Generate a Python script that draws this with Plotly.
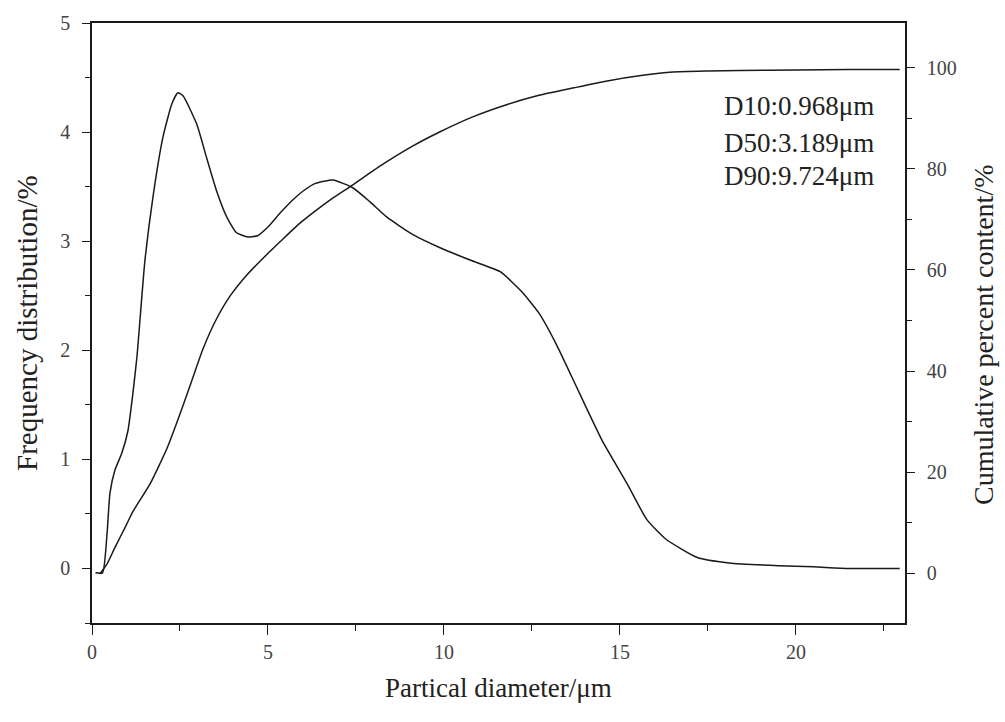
import plotly.graph_objects as go

# Frequency distribution (%) vs particle diameter (um)
freq_x = [0.1, 0.3, 0.43, 0.51, 0.65, 0.85, 1.02, 1.16, 1.28, 1.5, 1.73, 2.02, 2.27, 2.44,
          2.59, 2.98, 3.26, 3.55, 3.83, 4.1, 4.4, 4.7, 5.0, 5.35, 5.71, 6.0, 6.35, 6.85, 7.41,
          7.9, 8.38, 9.12, 9.89, 10.8, 11.6, 12.2, 12.7, 13.2, 13.86, 14.5, 15.2, 15.76, 16.3,
          17.2, 18.1, 19.5, 20.5, 21.5, 22.95]
freq_y = [-0.04, -0.04, 0.33, 0.69, 0.9, 1.06, 1.26, 1.6, 1.95, 2.81, 3.4, 3.96, 4.26, 4.36,
          4.33, 4.07, 3.76, 3.45, 3.22, 3.08, 3.04, 3.05, 3.13, 3.26, 3.38, 3.46, 3.53, 3.56, 3.49,
          3.36, 3.22, 3.06, 2.94, 2.82, 2.72, 2.54, 2.34, 2.05, 1.6, 1.17, 0.78, 0.45, 0.27,
          0.1, 0.05, 0.025, 0.015, 0.0, 0.0]

# Cumulative percent content (%)
cum_x = [0.23, 0.43, 0.65, 0.97, 1.16, 1.65, 2.13, 2.5, 2.87, 3.15, 3.5, 3.92, 4.4, 4.86,
         5.35, 5.82, 6.3, 6.76, 7.41, 8.18, 9.12, 9.89, 10.8, 11.8, 12.7, 13.7, 14.6, 15.6,
         16.5, 17.5, 18.4, 20.0, 21.5, 22.95]
cum_y = [0, 1.9, 5.1, 9.5, 12.2, 17.7, 24.7, 31.5, 38.8, 44.3, 49.8, 54.8, 59, 62.3,
         65.6, 68.7, 71.4, 73.8, 76.8, 80.5, 84.5, 87.3, 90.2, 92.7, 94.5, 96.0, 97.3, 98.4,
         99.1, 99.3, 99.4, 99.5, 99.6, 99.6]

d_labels = ["D10:0.968μm", "D50:3.189μm", "D90:9.724μm"]

FONT = "Liberation Serif"
INK = "#1a1a1a"

fig = go.Figure()
fig.add_trace(go.Scatter(x=freq_x, y=freq_y, mode="lines",
                         line=dict(color=INK, width=1.5, shape="spline", smoothing=0.5),
                         showlegend=False))
fig.add_trace(go.Scatter(x=cum_x, y=cum_y, mode="lines", yaxis="y2",
                         line=dict(color=INK, width=1.5, shape="spline", smoothing=0.5),
                         showlegend=False))

tickfont = dict(family=FONT, size=20, color="#444")

fig.update_layout(
    width=1005, height=722,
    margin=dict(l=92, r=100, t=19, b=99),
    paper_bgcolor="white", plot_bgcolor="white",
    xaxis=dict(range=[0, 23.1], dtick=5, tick0=0, showgrid=False, zeroline=False,
               showline=True, linecolor=INK, linewidth=1.5, mirror=True,
               ticks="outside", ticklen=10, tickwidth=1.2, tickcolor=INK,
               minor=dict(dtick=2.5, ticks="outside", ticklen=6, tickcolor=INK),
               tickfont=tickfont, ticklabelstandoff=0),
    yaxis=dict(range=[-0.5, 5], dtick=1, tick0=0, showgrid=False, zeroline=False,
               showline=True, linecolor=INK, linewidth=1.5,
               ticks="outside", ticklen=8, tickwidth=1.2, tickcolor=INK,
               minor=dict(dtick=0.5, ticks="outside", ticklen=5, tickcolor=INK),
               tickfont=tickfont, ticklabelstandoff=8),
    yaxis2=dict(range=[-9.8, 108.8], dtick=20, tick0=0, overlaying="y", side="right",
                showgrid=False, zeroline=False,
                showline=True, linecolor=INK, linewidth=1.5,
                ticks="outside", ticklen=8, tickwidth=1.2, tickcolor=INK,
                minor=dict(dtick=10, ticks="outside", ticklen=5, tickcolor=INK),
                tickfont=tickfont, ticklabelstandoff=8),
)

annotations = [
    dict(text="Partical diameter/μm", x=0.5, y=-0.108, xref="paper", yref="paper",
         xanchor="center", yanchor="middle", showarrow=False,
         font=dict(family=FONT, size=27, color="#222")),
    dict(text="Frequency distribution/%", x=-0.08, y=0.5, xref="paper", yref="paper",
         xanchor="center", yanchor="middle", textangle=-90, showarrow=False,
         font=dict(family=FONT, size=29, color="#222")),
    dict(text="Cumulative percent content/%", x=1.096, y=0.48, xref="paper", yref="paper",
         xanchor="center", yanchor="middle", textangle=-90, showarrow=False,
         font=dict(family=FONT, size=28, color="#222")),
]
for i, t in enumerate(d_labels):
    annotations.append(dict(text=t, x=0.775, y=[0.861, 0.80, 0.745][i], xref="paper",
                            yref="paper", xanchor="left", yanchor="middle", showarrow=False,
                            font=dict(family=FONT, size=27, color="#222")))
fig.update_layout(annotations=annotations)

fig.write_html("out.html")
